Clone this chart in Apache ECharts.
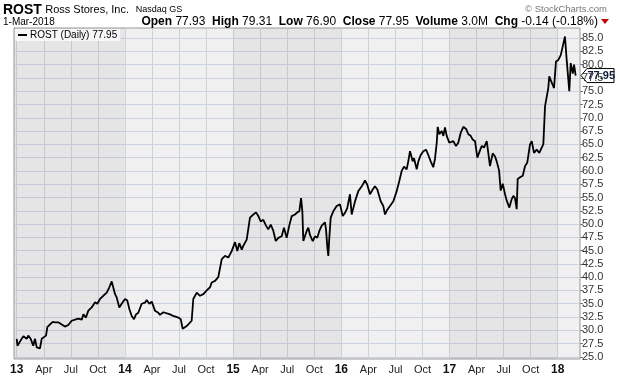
<!DOCTYPE html>
<html><head><meta charset="utf-8">
<script src="https://cdn.jsdelivr.net/npm/echarts@6/dist/echarts.min.js"></script>
<style>html,body{margin:0;padding:0;background:#fff}#c{width:620px;height:376px}</style>
</head><body><div id="c"></div>
<script>
// Decimal-year dates of the sampled closes
const years = [
2013.000,2013.007,2013.024,2013.061,2013.092,2013.107,2013.129,2013.153,2013.169,2013.185,
2013.215,2013.231,2013.246,2013.271,2013.283,2013.308,2013.333,2013.354,2013.384,2013.416,
2013.446,2013.477,2013.508,2013.539,2013.569,2013.601,2013.616,2013.640,2013.662,2013.693,
2013.724,2013.745,2013.770,2013.800,2013.832,2013.856,2013.878,2013.893,2013.909,2013.924,
2013.948,2013.970,2014.001,2014.022,2014.041,2014.063,2014.084,2014.103,2014.124,2014.155,
2014.186,2014.201,2014.226,2014.248,2014.278,2014.309,2014.324,2014.355,2014.417,2014.447,
2014.494,2014.516,2014.534,2014.571,2014.617,2014.632,2014.664,2014.694,2014.725,2014.756,
2014.787,2014.802,2014.833,2014.863,2014.879,2014.895,2014.925,2014.956,2014.987,2015.018,
2015.039,2015.057,2015.080,2015.094,2015.126,2015.156,2015.187,2015.212,2015.233,2015.255,
2015.279,2015.304,2015.325,2015.348,2015.372,2015.394,2015.418,2015.449,2015.470,2015.495,
2015.519,2015.542,2015.572,2015.593,2015.612,2015.628,2015.640,2015.649,2015.665,2015.680,
2015.695,2015.711,2015.736,2015.757,2015.778,2015.797,2015.819,2015.849,2015.859,2015.871,
2015.880,2015.889,2015.902,2015.926,2015.957,2015.988,2016.013,2016.034,2016.055,2016.080,
2016.096,2016.111,2016.127,2016.157,2016.189,2016.219,2016.240,2016.265,2016.290,2016.311,
2016.333,2016.351,2016.364,2016.388,2016.404,2016.425,2016.450,2016.481,2016.512,2016.536,
2016.558,2016.580,2016.604,2016.619,2016.635,2016.660,2016.672,2016.697,2016.712,2016.734,
2016.758,2016.783,2016.804,2016.826,2016.850,2016.866,2016.882,2016.891,2016.906,2016.928,
2016.943,2016.958,2016.974,2016.998,2017.011,2017.035,2017.060,2017.081,2017.104,2017.128,
2017.153,2017.174,2017.196,2017.214,2017.236,2017.257,2017.275,2017.298,2017.319,2017.344,
2017.359,2017.374,2017.399,2017.421,2017.436,2017.458,2017.473,2017.492,2017.513,2017.529,
2017.553,2017.575,2017.590,2017.605,2017.621,2017.630,2017.652,2017.677,2017.698,2017.719,
2017.744,2017.760,2017.781,2017.806,2017.830,2017.852,2017.867,2017.883,2017.898,2017.913,
2017.922,2017.945,2017.966,2017.984,2018.006,2018.028,2018.046,2018.067,2018.083,2018.098,
2018.107,2018.120,2018.139,2018.151,2018.166
];
const closes = [
28.4,27.1,27.3,28.9,28.4,29.0,28.4,27.1,28.4,26.8,
26.6,28.4,28.7,29.0,30.6,31.1,31.6,31.5,31.5,31.1,
30.7,31.0,31.8,32.0,32.2,32.0,33.0,32.4,33.7,34.3,
35.3,35.0,35.9,36.5,37.1,38.1,39.2,39.1,36.8,36.2,
34.3,35.0,35.9,35.6,34.0,32.7,32.1,33.0,33.3,35.0,
35.2,35.7,35.0,35.4,33.7,33.3,32.9,33.4,33.0,32.7,
32.4,32.1,30.3,30.8,31.8,35.9,37.1,36.5,36.8,37.5,
38.1,39.0,39.3,40.0,39.9,43.4,44.0,43.7,44.9,46.6,
44.9,46.4,45.2,45.9,47.1,51.2,51.8,52.2,51.5,50.5,
50.8,49.7,49.0,49.9,48.7,46.8,47.4,47.7,49.3,47.4,
49.7,51.5,51.8,52.2,52.4,54.9,52.4,46.8,46.5,48.7,
49.3,47.9,46.8,47.7,47.4,48.7,49.7,50.3,48.9,45.6,
44.0,47.4,51.2,52.4,53.4,53.7,51.5,52.1,53.0,55.6,
51.8,53.0,54.3,56.2,57.1,58.2,57.4,55.6,56.5,57.1,
56.5,56.2,54.3,53.4,51.8,52.7,53.4,54.3,56.2,58.1,
60.0,60.8,60.3,61.8,63.7,61.8,62.4,60.3,61.8,63.0,
63.7,64.0,63.0,61.8,60.7,62.3,65.3,68.3,66.9,67.5,
66.6,68.2,66.6,65.3,65.0,65.6,64.7,65.3,67.2,68.3,
67.9,66.9,66.6,65.9,65.6,62.5,63.5,64.7,64.4,65.6,
63.3,60.9,63.3,62.7,61.8,60.1,56.3,57.6,55.6,54.4,
53.1,54.7,55.3,54.9,52.8,58.5,58.8,59.1,60.9,61.6,
65.0,65.6,63.4,64.0,63.4,64.4,65.0,72.2,72.5,75.6,
77.8,76.6,75.6,80.6,80.9,81.8,83.4,85.3,80.9,77.2,
75.0,80.3,78.3,80.0,77.95
];
const xTicks = [2013,2013.25,2013.5,2013.75,2014,2014.25,2014.5,2014.75,2015,2015.25,2015.5,2015.75,
  2016,2016.25,2016.5,2016.75,2017,2017.25,2017.5,2017.75,2018];
const monthNames = ['Apr','Jul','Oct'];
const yTicks = [25,27.5,30,32.5,35,37.5,40,42.5,45,47.5,50,52.5,55,57.5,60,62.5,65,67.5,70,72.5,75,77.5,80,82.5,85];
const shadedYears = [[2012.975,2014],[2015,2016],[2017,2018]];
const seriesName = 'ROST (Daily)';
const lastClose = '77.95';
const header = {sym:'ROST', name:'Ross Stores, Inc.', exch:'Nasdaq GS', date:'1-Mar-2018',
  quote:[['Open','77.93'],['High','79.31'],['Low','76.90'],['Close','77.95'],['Volume','3.0M'],['Chg','-0.14 (-0.18%)']]};

const FONT = 'Liberation Sans, Arial, sans-serif';
const X_MIN = 2012.975, X_MAX = 2018.206, Y_MIN = 24.6, Y_MAX = 86.9;

const chart = echarts.init(document.getElementById('c'), null, {renderer:'canvas'});
const data = years.map((y,i)=>[y, closes[i]]);
const gridColor = '#cbd3de';

chart.setOption({
  animation:false,
  backgroundColor:'#fff',
  textStyle:{fontFamily:FONT},
  grid:{left:14, right:40, top:28, bottom:16, show:true, backgroundColor:'#f0f0f0', borderColor:'#999', borderWidth:1},
  legend:{show:true, left:15, top:29, padding:[1,3], itemGap:0, itemWidth:9, itemHeight:2,
    backgroundColor:'rgba(248,248,248,0.9)',
    textStyle:{fontFamily:FONT, fontSize:10, color:'#000', padding:[0,0,0,-2]},
    formatter: n => n + ' ' + lastClose,
    data:[{name:seriesName, icon:'rect', itemStyle:{color:'#000'}}]},
  xAxis:{type:'value', min:X_MIN, max:X_MAX,
    axisLine:{show:false}, axisTick:{show:false, customValues:xTicks},
    splitLine:{show:true, lineStyle:{color:gridColor, width:1}},
    axisLabel:{customValues:xTicks, margin:5, fontSize:11, color:'#222', fontFamily:FONT,
      formatter: v => { const y=Math.round(v*4)/4; const yr=Math.floor(y+1e-6); const q=Math.round((y-yr)*4);
        return q===0 ? '{b|'+String(yr).slice(2)+'}' : monthNames[q-1]; },
      rich:{b:{fontWeight:'bold', fontSize:12, color:'#111', fontFamily:FONT}}}},
  yAxis:{type:'value', position:'right', min:Y_MIN, max:Y_MAX, scale:true,
    axisLine:{show:false},
    axisTick:{show:true, length:3, inside:false, customValues:yTicks, lineStyle:{color:'#777'}},
    splitLine:{show:true, lineStyle:{color:gridColor, width:1}},
    axisLabel:{customValues:yTicks, margin:2, fontSize:11, color:'#333', fontFamily:FONT,
      formatter: v => v.toFixed(1)}},
  series:[{name:seriesName, type:'line', data:data, showSymbol:false, symbol:'none',
    lineStyle:{color:'#000', width:1.8}, itemStyle:{color:'#000'},
    markArea:{silent:true, itemStyle:{color:'rgba(0,0,0,0.045)'},
      data: shadedYears.map(p=>[{xAxis:p[0]},{xAxis:p[1]}])}}]
});

const py = chart.convertToPixel({yAxisIndex:0}, parseFloat(lastClose));
const rich = {b:{fontWeight:'bold', fontSize:12, fontFamily:FONT, color:'#000'}, n:{fontSize:12, fontFamily:FONT, color:'#000'}};
const quoteText = header.quote.map(q=>'{b|'+q[0]+'}{n| '+q[1]+'}').join('{n|  }');
chart.setOption({graphic:[
  {type:'text', left:3, top:3, style:{rich:{s:{fontWeight:'bold', fontSize:14, fontFamily:FONT, color:'#000'},
      c:{fontSize:11, fontFamily:FONT, color:'#000'}, e:{fontSize:9, fontFamily:FONT, color:'#000'}},
      text:'{s|'+header.sym+'} {c|'+header.name+'}  {e|'+header.exch+'}'}},
  {type:'text', left:3, top:17, style:{text:header.date, fontSize:10, fontFamily:FONT, fill:'#000'}},
  {type:'text', right:620-598, top:16, style:{text:quoteText, rich:rich}},
  {type:'polygon', shape:{points:[[601,19],[609,19],[605,24]]}, style:{fill:'#c00000'}},
  {type:'text', right:13, top:4, style:{text:'© StockCharts.com', fontSize:9.5, fontFamily:FONT, fill:'#777'}},
  {type:'polygon', shape:{points:[[581,py],[587,py-7],[614,py-7],[614,py+7],[587,py+7]]},
    style:{fill:'#fff', stroke:'#000', lineWidth:1}},
  {type:'text', x:587.5, y:py-5.5, style:{text:lastClose, fontWeight:'bold', fontSize:11, fontFamily:FONT, fill:'#0a1a3a'}}
]});
</script></body></html>
